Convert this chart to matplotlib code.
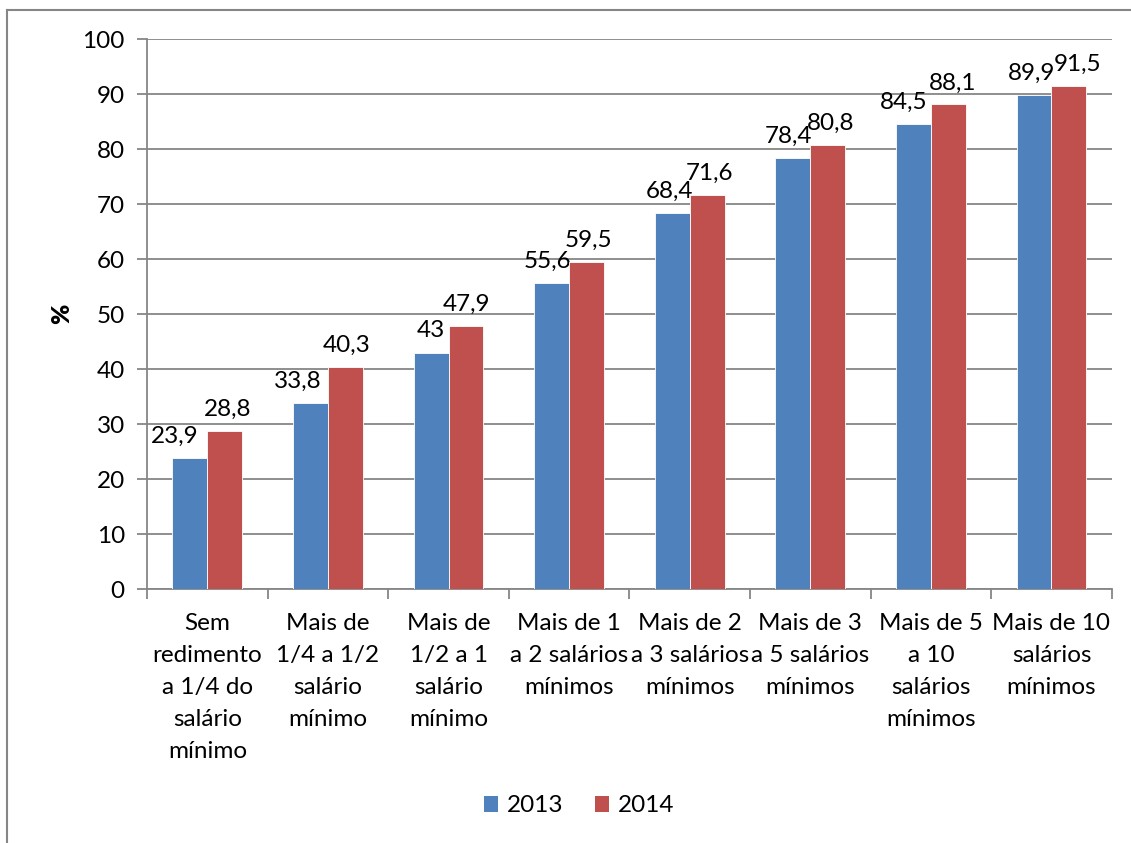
import matplotlib
matplotlib.use("Agg")
import matplotlib.pyplot as plt
from matplotlib.lines import Line2D
from matplotlib.patches import Patch
import numpy as np

FS = 17.5
plt.rcParams.update({"font.family": ["Lato", "DejaVu Sans"], "font.size": FS})

categories = [
    "Sem\nredimento\na 1/4 do\nsalário\nmínimo",
    "Mais de\n1/4 a 1/2\nsalário\nmínimo",
    "Mais de\n1/2 a 1\nsalário\nmínimo",
    "Mais de 1\na 2 salários\nmínimos",
    "Mais de 2\na 3 salários\nmínimos",
    "Mais de 3\na 5 salários\nmínimos",
    "Mais de 5\na 10\nsalários\nmínimos",
    "Mais de 10\nsalários\nmínimos",
]
v2013 = [23.9, 33.8, 43.0, 55.6, 68.4, 78.4, 84.5, 89.9]
v2014 = [28.8, 40.3, 47.9, 59.5, 71.6, 80.8, 88.1, 91.5]
series = [("2013", v2013, "#4F81BD"), ("2014", v2014, "#C0504D")]

# horizontal nudges (pixels) so neighbouring value labels don't collide
nudge = [
    [-15, -13, 0, -4, -3, -4, -10, -2],
    [3, 1, 0, 2, 2, 3, 4, 9],
]

GRID = "#868686"

fig = plt.figure(figsize=(11.31, 8.43), dpi=100)
ax = fig.add_axes([0.130, 0.3013, 0.853, 0.6524])

x = np.arange(len(categories))
w = 0.29
for i, (name, vals, col) in enumerate(series):
    pos = x + (i - 0.5) * w
    ax.bar(pos, vals, width=w, color=col, edgecolor="white", linewidth=0.6, zorder=3)
    for px, v, dx in zip(pos, vals, nudge[i]):
        txt = f"{v:g}".replace(".", ",")
        ax.annotate(txt, (px, v), xytext=(dx * 0.72, 8), textcoords="offset points",
                    ha="center", va="bottom", fontsize=FS, color="black")

ax.set_xlim(-0.5, len(categories) - 0.5)
ax.set_ylim(0, 100)
ax.set_yticks(range(0, 101, 10))
ax.yaxis.grid(True, color=GRID, linewidth=1.3, zorder=0)
ax.set_axisbelow(True)
for s in ("top", "right"):
    ax.spines[s].set_visible(False)
for s in ("left", "bottom"):
    ax.spines[s].set_color(GRID)
    ax.spines[s].set_linewidth(1.3)
ax.tick_params(axis="y", length=7, color=GRID, width=1.3, pad=9, labelsize=FS)

# category boundary ticks on the x axis, labels centred between them
ax.set_xticks(np.arange(-0.5, len(categories)), minor=False)
ax.set_xticklabels([])
ax.set_xticks(x, minor=True)
ax.set_xticklabels(categories, minor=True, linespacing=1.65)
ax.tick_params(axis="x", which="major", length=7, color=GRID, width=1.3)
ax.tick_params(axis="x", which="minor", length=0, pad=17, labelsize=FS)

fig.text(0.055, 0.628, "%", rotation=90, ha="center", va="center",
         fontsize=FS, fontweight="heavy")

handles = [Patch(facecolor=c, edgecolor="none") for _, _, c in series]
fig.legend(handles, [n for n, _, _ in series], loc="center", bbox_to_anchor=(0.512, 0.044),
           ncol=2, frameon=False, handlelength=0.6, handleheight=0.6,
           handletextpad=0.35, columnspacing=1.3, fontsize=FS)

# chart border
fig.add_artist(Line2D([0.0062, 0.0062], [0, 0.988], color=GRID, lw=1.5, transform=fig.transFigure))
fig.add_artist(Line2D([0.0062, 1.0], [0.988, 0.988], color=GRID, lw=1.5, transform=fig.transFigure))

fig.savefig("out.png", dpi=100, facecolor="white")
